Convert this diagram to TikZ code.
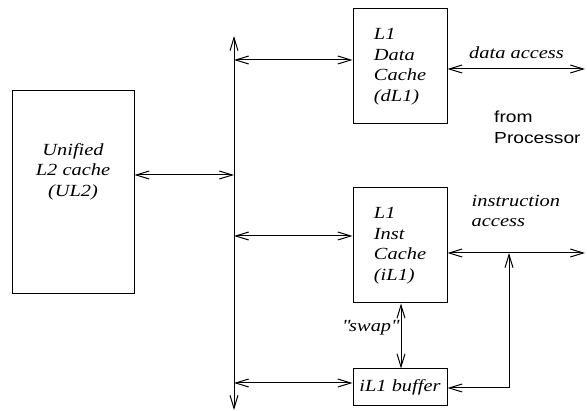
\documentclass[tikz,border=0pt]{standalone}
\usepackage{fontspec}
\setmainfont[FakeStretch=1.2]{Liberation Serif}
\setsansfont[FakeStretch=1.2]{Liberation Sans}
\usetikzlibrary{arrows.meta}
\begin{document}
\begin{tikzpicture}[x=1pt,y=-1pt,
  box/.style={draw,line width=1pt,inner sep=0pt,align=left,
    font=\itshape\fontsize{17}{20.5}\selectfont},
  lbl/.style={inner sep=0pt,font=\itshape\fontsize{17}{20.5}\selectfont},
  arr/.style={line width=1pt,{Straight Barb[length=13pt,width=8pt]}-{Straight Barb[length=13pt,width=8pt]}}]
\useasboundingbox (0,0) rectangle (587,411);
% boxes
\node[box,minimum width=122pt,minimum height=203pt] (ul2) at (73,192.5) {};
\node[lbl,align=center,anchor=base] (ul2t) at (73,196.5) {Unified\\L2 cache\\(UL2)};
\node[box,minimum width=94pt,minimum height=115pt] (dl1) at (400,66.5) {L1\\Data\\Cache\\(dL1)};
\node[box,minimum width=94pt,minimum height=115pt] (il1) at (400,245.5) {L1\\Inst\\Cache\\(iL1)};
\node[box,minimum width=94pt,minimum height=37pt] (buf) at (400,387.5) {iL1 buffer};
% bus
\coordinate (btop) at (234,36);
\coordinate (bbot) at (234,410);
\draw[arr] (btop) -- (bbot);
\coordinate (b1) at (234,60);
\coordinate (b2) at (234,175);
\coordinate (b3) at (234,236);
\coordinate (b4) at (234,383);
\draw[arr] (b1) -- (dl1.west |- b1);
\draw[arr] (ul2.east |- b2) -- (b2);
\draw[arr] (b3) -- (il1.west |- b3);
\draw[arr] (b4) -- (buf.west |- b4);
% processor side
\coordinate (dend) at (585,69);
\draw[arr] (dl1.east |- dend) -- (dend);
\node[lbl,anchor=base] (dlab) at (516.5,59) {data access};
\coordinate (iend) at (585,253);
\draw[arr] (il1.east |- iend) -- (iend);
\node[lbl,anchor=base west,align=left] (ilab) at (471.5,227) {instruction\\access};
\coordinate (junc) at (509,253);
\coordinate (corner) at (509,388);
\draw[arr] (junc) -- (corner) -- (buf.east |- corner);
% swap
\draw[arr] (il1.south -| 401,0) -- (buf.north -| 401,0);
\node[lbl,anchor=base east] (swap) at (398.5,331.5) {\textquotedbl swap\textquotedbl};
% from processor
\node[inner sep=0pt,anchor=base west,align=left,font=\sffamily\fontsize{16}{20.7}\selectfont] (proc) at (494,143.3) {from\\Processor};
\end{tikzpicture}
\end{document}
